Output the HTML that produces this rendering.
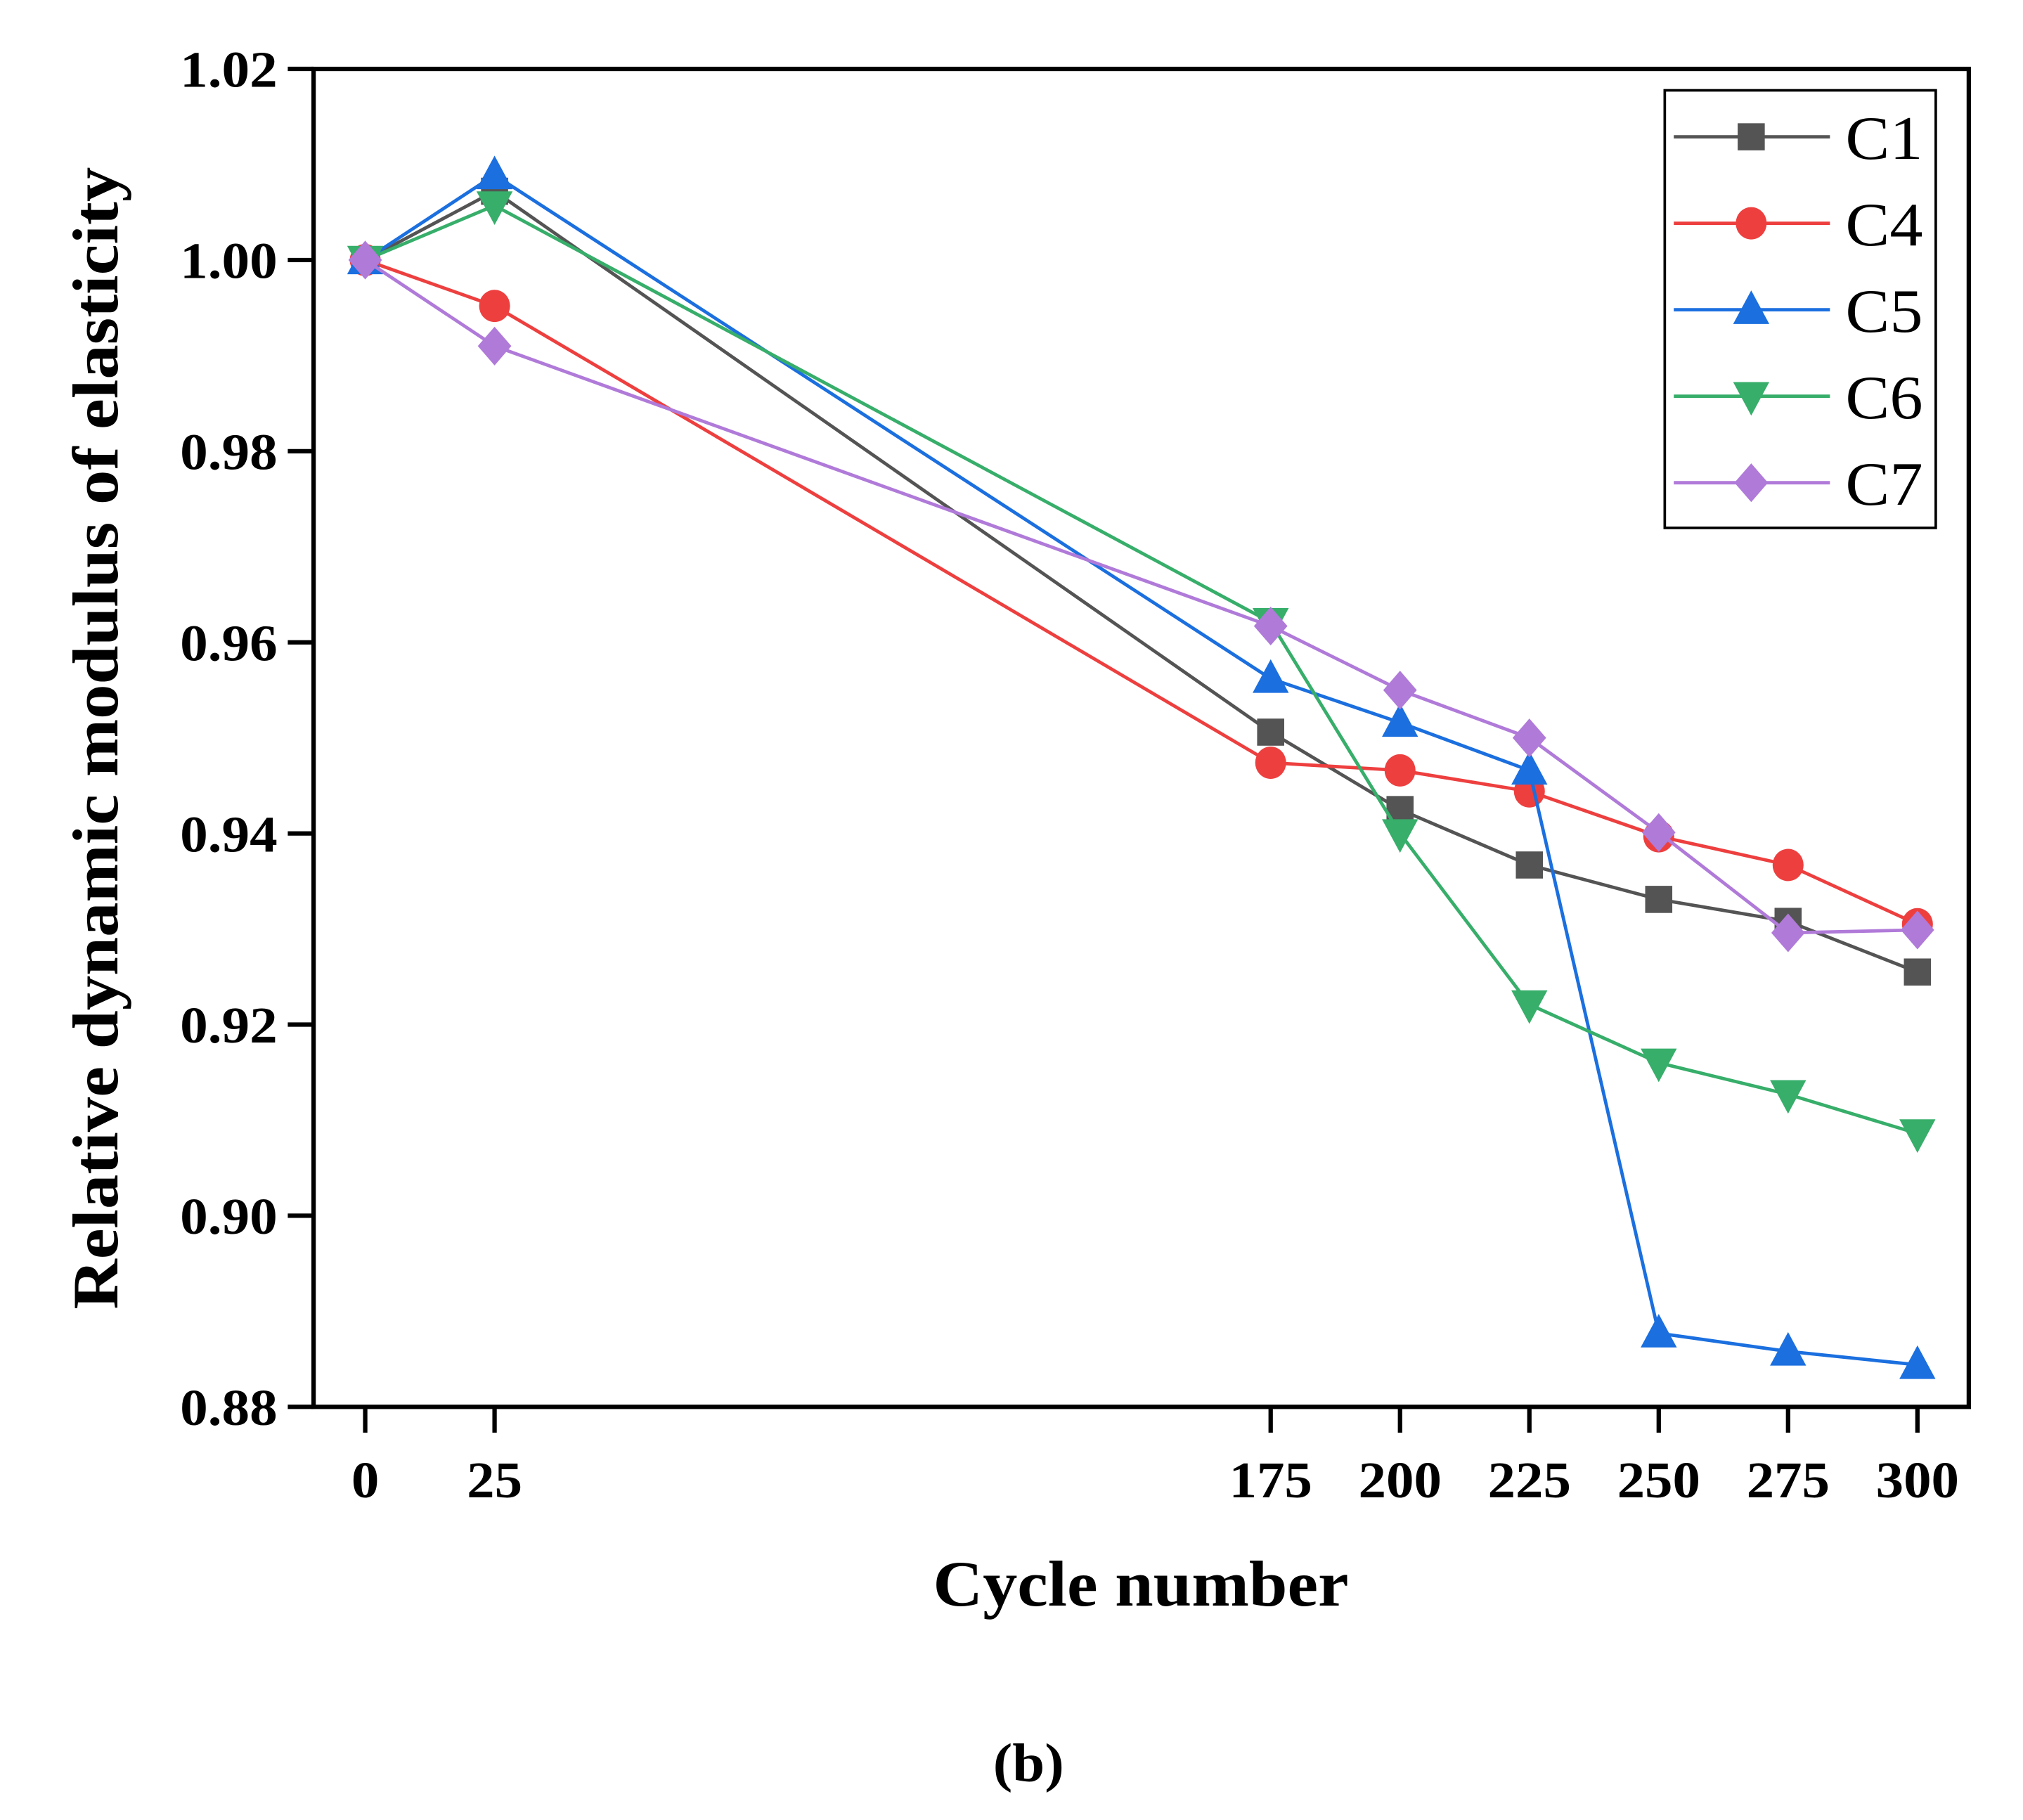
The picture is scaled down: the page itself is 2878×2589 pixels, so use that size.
<!DOCTYPE html>
<html><head><meta charset="utf-8"><style>html,body{margin:0;padding:0;background:#fff}svg{display:block}text{font-family:"Liberation Serif",serif;font-weight:bold}</style></head>
<body>
<svg id="chart" width="2878" height="2589" viewBox="0 0 1567.6 1410.1" preserveAspectRatio="none" xmlns="http://www.w3.org/2000/svg">
<rect width="1567.6" height="1410.1" fill="#fff"/>
<g id="plot"></g>
</svg>
<script>
const categories = [0, 25, 175, 200, 225, 250, 275, 300];
const yTicks = [0.88, 0.90, 0.92, 0.94, 0.96, 0.98, 1.00, 1.02];
const yTickLabels = ["0.88", "0.90", "0.92", "0.94", "0.96", "0.98", "1.00", "1.02"];
const seriesNames = ["C1", "C4", "C5", "C6", "C7"];
const c1 = [1.000, 1.0072, 0.9506, 0.9425, 0.9367, 0.9331, 0.9308, 0.9255];
const c4 = [1.000, 0.9952, 0.9474, 0.9466, 0.9444, 0.9397, 0.9367, 0.9305];
const c5 = [1.000, 1.0089, 0.9562, 0.9516, 0.9466, 0.8877, 0.8858, 0.8844];
const c6 = [1.000, 1.0057, 0.9621, 0.9400, 0.9221, 0.9160, 0.9127, 0.9086];
const c7 = [1.000, 0.9910, 0.9617, 0.9550, 0.9500, 0.9401, 0.9296, 0.9299];

const NS = "http://www.w3.org/2000/svg";
const g = document.getElementById("plot");
const L = 243, R = 1525.6, T = 53.4, B = 1090;
const X0 = 283, X1 = 1485.8;
function xs(v) { return X0 + (v - 0) / 300 * (X1 - X0); }
function ys(v) { return B - (v - 0.88) / 0.14 * (B - T); }
function mk(tag, attrs, parent) {
  const e = document.createElementNS(NS, tag);
  for (const k in attrs) e.setAttribute(k, attrs[k]);
  (parent || g).appendChild(e);
  return e;
}
function labelWidth(s) { let w = 0; for (const ch of s) w += (ch === '.') ? 11 : 21.5; return w; }
const colors = ["#545454", "#ee3f3f", "#1b6fdf", "#37ae6a", "#b07ad9"];
const shapes = ["square", "circle", "up", "down", "diamond"];
const allData = [c1, c4, c5, c6, c7];

function marker(shape, x, y, color, parent) {
  let e;
  if (shape === "square") e = mk("rect", {x: x - 10.5, y: y - 10.5, width: 21, height: 21, fill: color}, parent);
  else if (shape === "circle") e = mk("ellipse", {cx: x, cy: y, rx: 12, ry: 12.5, fill: color}, parent);
  else if (shape === "up") e = mk("polygon", {points: `${x},${y-15} ${x+14},${y+11} ${x-14},${y+11}`, fill: color}, parent);
  else if (shape === "down") e = mk("polygon", {points: `${x},${y+15} ${x+14},${y-11} ${x-14},${y-11}`, fill: color}, parent);
  else e = mk("polygon", {points: `${x},${y-15} ${x+13},${y} ${x},${y+15} ${x-13},${y}`, fill: color}, parent);
  return e;
}

allData.forEach((d, si) => {
  const sg = mk("g", {});
  
  
  const pts = d.map((v, i) => xs(categories[i]) + "," + ys(v)).join(" ");
  const pl = mk("polyline", {points: pts, fill: "none", stroke: colors[si], "stroke-width": 2.6}, sg);
  
  
  d.forEach((v, i) => {
    const m = marker(shapes[si], xs(categories[i]), ys(v), colors[si], sg);
    
    
  });
});

const frame = mk("rect", {x: L, y: T, width: R - L, height: B - T, fill: "none", stroke: "#000", "stroke-width": 3.4});



yTicks.forEach((v, i) => {
  const y = ys(v);
  const t = mk("line", {x1: L - 20, y1: y, x2: L, y2: y, stroke: "#000", "stroke-width": 3.4});
  
  
  const s = yTickLabels[i];
  const tx = mk("text", {x: L - 28, y: y + 14, "text-anchor": "end", "font-size": 40, textLength: labelWidth(s), lengthAdjust: "spacingAndGlyphs"});
  tx.textContent = s;
  
  
});
categories.forEach((c) => {
  const x = xs(c);
  const t = mk("line", {x1: x, y1: B, x2: x, y2: B + 20, stroke: "#000", "stroke-width": 3.4});
  
  
  const s = String(c);
  const tx = mk("text", {x: x, y: B + 70, "text-anchor": "middle", "font-size": 40, textLength: labelWidth(s), lengthAdjust: "spacingAndGlyphs"});
  tx.textContent = s;
  
  
});

const xt = mk("text", {x: 884, y: 1244, "text-anchor": "middle", "font-size": 50, textLength: 322, lengthAdjust: "spacingAndGlyphs"});
xt.textContent = "Cycle number";


const yt = mk("text", {x: 0, y: 0, "text-anchor": "middle", "font-size": 50, textLength: 885, lengthAdjust: "spacingAndGlyphs", transform: "translate(91,572) rotate(-90)"});
yt.textContent = "Relative dynamic modulus of elasticity";


const cap = mk("text", {x: 797, y: 1380, "text-anchor": "middle", "font-size": 42, textLength: 55, lengthAdjust: "spacingAndGlyphs"});
cap.textContent = "(b)";



const lg = mk("g", {});


const lb = mk("rect", {x: 1290, y: 70, width: 210, height: 339, fill: "#fff", stroke: "#000", "stroke-width": 2}, lg);


seriesNames.forEach((n, i) => {
  const y = 106 + i * 67;
  const eg = mk("g", {}, lg);
  
  
  mk("line", {x1: 1297, y1: y, x2: 1418, y2: y, stroke: colors[i], "stroke-width": 2.6}, eg);
  marker(shapes[i], 1357, y, colors[i], eg);
  const t = mk("text", {x: 1430, y: y + 17, "font-size": 48, style: "font-weight:normal", textLength: 60, lengthAdjust: "spacingAndGlyphs"}, eg);
  t.textContent = n;
});
</script>
</body></html>
